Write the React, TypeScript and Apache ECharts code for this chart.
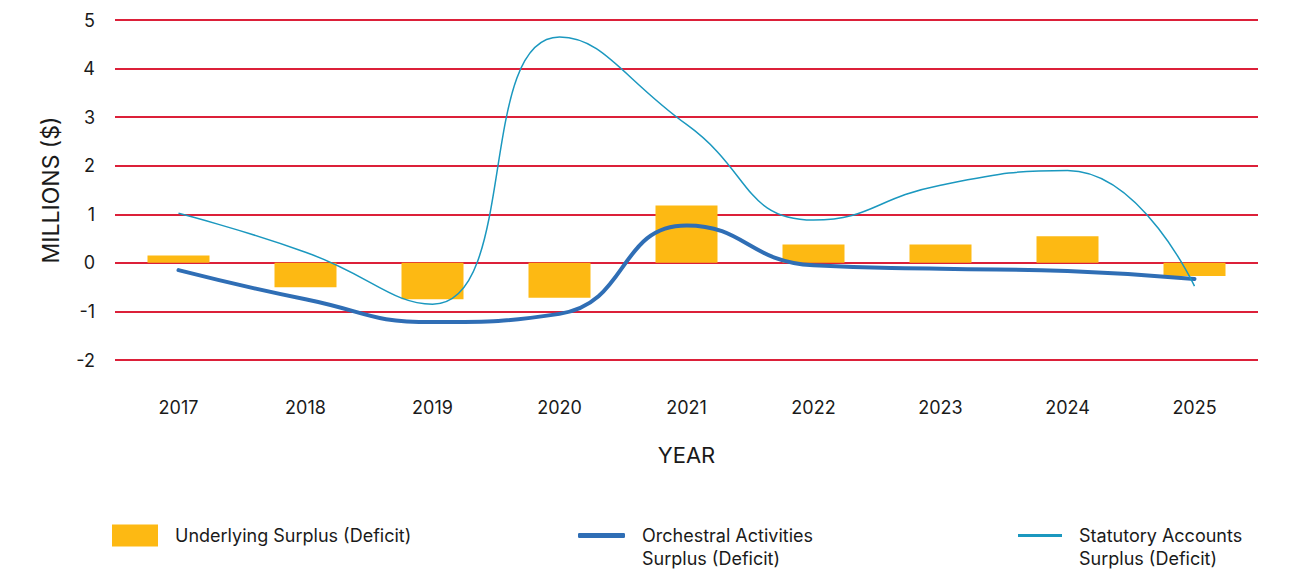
import React, { useEffect, useRef } from "react";
import * as echarts from "echarts";

const years = ["2017", "2018", "2019", "2020", "2021", "2022", "2023", "2024", "2025"];
const underlying = [0.15, -0.5, -0.75, -0.72, 1.18, 0.38, 0.38, 0.55, -0.27];
const orchestral = [-0.15, -0.75, -1.22, -1.05, 0.77, -0.05, -0.12, -0.17, -0.33];
const statutory = [1.02, 0.22, -0.85, 4.65, 2.85, 0.88, 1.6, 1.9, -0.48];

const NAME_U = "Underlying Surplus (Deficit)";
const NAME_O = "Orchestral Activities Surplus (Deficit)";
const NAME_S = "Statutory Accounts Surplus (Deficit)";

const FONT = "Inter, 'Noto Sans', sans-serif";
const TEXT = "#1a1a1a";

export default function App() {
  const ref = useRef<HTMLDivElement>(null);
  useEffect(() => {
    if (!ref.current) return;
    const chart = echarts.init(ref.current, undefined, { renderer: "svg" });
    const legendText = {
      color: TEXT,
      fontFamily: FONT,
      fontSize: 18,
      lineHeight: 23,
      padding: [0, 0, 0, 12],
    };
    chart.setOption({
      animation: false,
      backgroundColor: "#ffffff",
      textStyle: { fontFamily: FONT },
      grid: { left: 115, right: 33, top: 20, bottom: 211 },
      legend: [
        {
          data: [NAME_U],
          left: 112,
          top: 524,
          padding: 0,
          itemWidth: 46,
          itemHeight: 22,
          icon: "rect",
          textStyle: legendText,
          formatter: () => "Underlying Surplus (Deficit)",
        },
        {
          data: [NAME_O],
          left: 578,
          top: 501,
          padding: 0,
          itemWidth: 47,
          itemHeight: 5,
          icon: "roundRect",
          textStyle: legendText,
          formatter: () => "\u00a0\nOrchestral Activities\nSurplus (Deficit)",
        },
        {
          data: [NAME_S],
          left: 1018,
          top: 501,
          padding: 0,
          itemWidth: 44,
          itemHeight: 3,
          icon: "rect",
          textStyle: legendText,
          formatter: () => "\u00a0\nStatutory Accounts\nSurplus (Deficit)",
        },
      ],
      xAxis: {
        type: "category",
        data: years,
        axisLine: { show: false },
        axisTick: { show: false },
        axisLabel: { color: TEXT, fontSize: 18, margin: 38, fontFamily: FONT },
        name: "YEAR",
        nameLocation: "middle",
        nameGap: 84,
        nameTextStyle: { color: TEXT, fontSize: 22, fontFamily: FONT },
      },
      yAxis: {
        type: "value",
        min: -2,
        max: 5,
        interval: 1,
        axisLine: { show: false },
        axisTick: { show: false },
        axisLabel: { color: TEXT, fontSize: 18, margin: 20, fontFamily: FONT },
        splitLine: { lineStyle: { color: "#dc2039", width: 1.8 } },
        name: "MILLIONS ($)",
        nameLocation: "middle",
        nameGap: 53,
        nameRotate: 90,
        nameTextStyle: { color: TEXT, fontSize: 23, fontFamily: FONT },
      },
      series: [
        {
          name: NAME_U,
          type: "bar",
          data: underlying,
          barWidth: 62,
          itemStyle: { color: "#fdb913" },
        },
        {
          name: NAME_O,
          type: "line",
          data: orchestral,
          smooth: 0.5,
          showSymbol: false,
          symbol: "none",
          lineStyle: { color: "#2f6eb5", width: 4, cap: "round" },
          itemStyle: { color: "#2f6eb5" },
        },
        {
          name: NAME_S,
          type: "line",
          data: statutory,
          smooth: 0.5,
          showSymbol: false,
          symbol: "none",
          lineStyle: { color: "#1b98bf", width: 1.5 },
          itemStyle: { color: "#1b98bf" },
        },
      ],
    });
    return () => chart.dispose();
  }, []);
  return (
    <div
      ref={ref}
      style={{ position: "fixed", left: 0, top: 0, width: 1291, height: 571 }}
    />
  );
}
